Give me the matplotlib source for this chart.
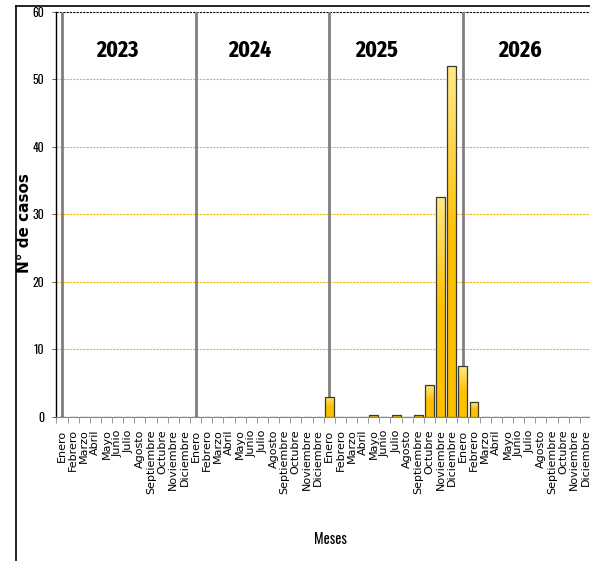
import matplotlib
matplotlib.use("Agg")
import matplotlib.pyplot as plt
import numpy as np
from matplotlib import font_manager
from matplotlib.colors import LinearSegmentedColormap
from matplotlib.lines import Line2D

# ------------------------------------------------------------------ data
years = ["2023", "2024", "2025", "2026"]
months = ["Enero", "Febrero", "Marzo", "Abril", "Mayo", "Junio", "Julio",
          "Agosto", "Septiembre", "Octubre", "Noviembre", "Diciembre"]
casos_2023 = [0] * 12
casos_2024 = [0] * 12
casos_2025 = [3.0, 0, 0, 0, 0.3, 0, 0.3, 0, 0.3, 4.8, 32.6, 52.0]
casos_2026 = [7.5, 2.2, 0, 0, 0, 0, 0, 0, 0, 0, 0, 0]
yticks = [0, 10, 20, 30, 40, 50, 60]

casos = casos_2023 + casos_2024 + casos_2025 + casos_2026
labels = months * len(years)
x = np.arange(len(casos))


def first_installed(cands):
    installed = set(f.name for f in font_manager.fontManager.ttflist)
    for c in cands:
        if c in installed:
            return [c, "DejaVu Sans"]
    return ["DejaVu Sans"]


# condensed faces: bold titles, plain ticks / axis name
title_font = first_installed(["Fira Sans Extra Condensed", "Oswald",
                              "Roboto Condensed", "Carlito"])
narrow = first_installed(["Oswald", "Fira Sans Extra Condensed",
                          "Roboto Condensed", "Carlito"])

fig = plt.figure(figsize=(5.9, 5.61), dpi=100)
ax = fig.add_axes([0.0956, 0.2567, 0.906, 0.722])

# bars with a light-top gradient
bars = ax.bar(x, casos, width=0.8, color="#FFC000", edgecolor="#3a3a2a",
              linewidth=0.9, zorder=3)
grad = LinearSegmentedColormap.from_list("g", ["#FFC000", "#FFC000", "#FFE88A"])
ramp = np.linspace(0, 1, 100).reshape(-1, 1)
for b, v in zip(bars, casos):
    if v <= 0:
        continue
    im = ax.imshow(ramp, cmap=grad, aspect="auto", origin="lower",
                   extent=(b.get_x(), b.get_x() + b.get_width(), 0, v),
                   zorder=3.5)
    im.set_clip_path(b)
    b.set_facecolor("none")
    b.set_zorder(4)

# year separators and year titles
for i, yr in enumerate(years):
    ax.axvline(i * 12, color="#808080", linewidth=2.0, zorder=2)
yr_pos = [5.0, 16.9, 28.3, 41.1]
for xp, yr in zip(yr_pos, years):
    ax.text(xp, 54.3, yr, ha="center", va="center", fontsize=17,
            fontweight="bold", family=title_font, zorder=5)

# grid
for yv in yticks[1:-1]:
    ax.axhline(yv, color="#F5B800", linestyle=(0, (2, 1)), linewidth=0.8, zorder=1)
ax.axhline(60, color="black", linestyle=(0, (2, 1)), linewidth=0.8, zorder=1,
           clip_on=False)

ax.set_xlim(-0.5, len(casos) - 0.5)
ax.set_ylim(0, 60)
ax.set_yticks(yticks)
ax.set_yticklabels([str(v) for v in yticks], family=narrow, fontsize=8.5)
ax.tick_params(axis="y", length=3, width=0.6, color="#444444", pad=6)

# tick marks at category boundaries, labels at centres
ax.set_xticks(np.arange(len(casos) + 1) - 0.5)
ax.set_xticklabels([])
ax.tick_params(axis="x", which="major", length=4, width=0.6, color="#888888")
ax.set_xticks(x, minor=True)
ax.set_xticklabels(labels, minor=True, rotation=90, fontsize=8, va="top",
                   ha="center")
ax.tick_params(axis="x", which="minor", length=0, pad=9)

for s in ["top", "right"]:
    ax.spines[s].set_visible(False)
ax.spines["left"].set_color("black")
ax.spines["left"].set_linewidth(1.0)
ax.spines["bottom"].set_color("#888888")
ax.spines["bottom"].set_linewidth(0.8)

fig.text(25 / 590, 1 - 223 / 561, "N° de casos", rotation=90, ha="center",
         va="center", fontsize=11, fontweight="bold")
fig.text(330 / 590, 1 - 540 / 561, "Meses", ha="center", va="center",
         fontsize=10.5, family=narrow)

# outer frame
fig.add_artist(Line2D([16 / 590, 16 / 590], [0, 1 - 6 / 561], color="black",
                      linewidth=1.2))
fig.add_artist(Line2D([16 / 590, 1], [1 - 6 / 561, 1 - 6 / 561], color="black",
                      linewidth=1.2))

fig.savefig("out.png", dpi=100)
